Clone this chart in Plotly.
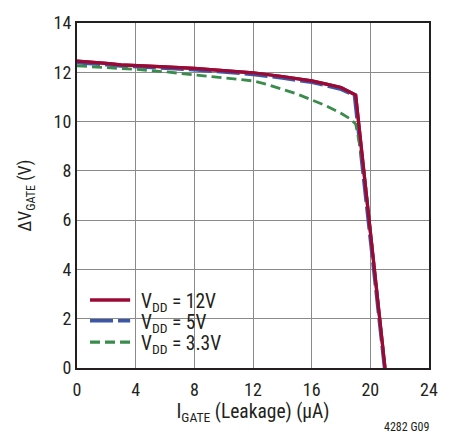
import plotly.graph_objects as go

# Gate drive vs. gate leakage current
i_12v = [0, 1, 2, 3, 4, 6, 8, 10, 12, 14, 16, 17, 18, 19.0, 21.0]
v_12v = [12.45, 12.42, 12.36, 12.3, 12.28, 12.22, 12.16, 12.08, 11.98, 11.83, 11.65, 11.52, 11.38, 11.08, 0]

i_5v = [0, 1, 2, 3, 4, 6, 8, 10, 12, 14, 16, 17, 18, 18.9, 20.95]
v_5v = [12.38, 12.35, 12.3, 12.25, 12.22, 12.16, 12.09, 12.0, 11.9, 11.76, 11.58, 11.45, 11.3, 11.05, 0]

i_33v = [0, 2, 4, 6, 8, 10, 12, 13, 14, 15, 16, 17, 18, 18.6, 19.0, 19.3, 19.6, 20.0, 21.0]
v_33v = [12.26, 12.2, 12.12, 12.02, 11.9, 11.8, 11.65, 11.5, 11.32, 11.12, 10.88, 10.64, 10.34, 10.12, 9.9, 9.0, 7.8, 5.6, 0]

x_ticks = [0, 4, 8, 12, 16, 20, 24]
y_ticks = [0, 2, 4, 6, 8, 10, 12, 14]

series_names = ["V<sub>DD</sub> = 12V", "V<sub>DD</sub> = 5V", "V<sub>DD</sub> = 3.3V"]
series_colors = ["#9a0a35", "#3d57a6", "#3a8c4c"]
series_dash = ["solid", "23px,5px", "10px,5px"]
series_width = [3.2, 3, 2.8]

FONT = "Liberation Sans Narrow, Roboto Condensed, Arial Narrow, Liberation Sans, sans-serif"
TEXT = "#231f20"

fig = go.Figure()
for xs, ys, name, col, dash, w in zip([i_12v, i_5v, i_33v], [v_12v, v_5v, v_33v],
                                      series_names, series_colors, series_dash, series_width):
    fig.add_trace(go.Scatter(x=xs, y=ys, mode="lines", name=name, showlegend=False,
                             line=dict(color=col, width=w, dash=dash)))
# redraw 12V on top so it covers the others
fig.add_trace(go.Scatter(x=i_12v, y=v_12v, mode="lines", showlegend=False, hoverinfo="skip",
                         line=dict(color=series_colors[0], width=series_width[0])))

axis_common = dict(
    showgrid=True, gridcolor="#8a8a8a", gridwidth=1.3,
    showline=True, linecolor="#231f20", linewidth=2, mirror=True,
    ticks="", zeroline=False,
    tickfont=dict(family=FONT, size=18, color=TEXT),
)

fig.update_xaxes(range=[0, 24], tickvals=x_ticks, ticklabelstandoff=4,
                 title=dict(text="I<sub>GATE</sub> (Leakage) (μA)",
                            font=dict(family=FONT, size=19.5, color=TEXT), standoff=6),
                 **axis_common)
fig.update_yaxes(range=[0, 14], tickvals=y_ticks,
                 title=dict(text="ΔV<sub>GATE</sub> (V)",
                            font=dict(family=FONT, size=17.5, color=TEXT), standoff=17),
                 **axis_common)

# legend block: white backing that hides the grid, line samples and labels
shapes = [dict(type="rect", xref="paper", yref="paper", x0=0.003, x1=0.43, y0=0.023, y1=0.237,
               fillcolor="white", line=dict(width=0), layer="between")]
annotations = []
legend_y = [0.197, 0.137, 0.075]
for name, col, dash, w, ly in zip(series_names, series_colors, series_dash, series_width, legend_y):
    shapes.append(dict(type="line", xref="paper", yref="paper", x0=0.037, x1=0.151, y0=ly, y1=ly,
                       line=dict(color=col, width=w + 0.3, dash=dash), layer="above"))
    annotations.append(dict(text=name, xref="paper", yref="paper", x=0.175, y=ly - 0.008,
                            xanchor="left", yanchor="middle", showarrow=False,
                            font=dict(family=FONT, size=19.5, color=TEXT)))

annotations.append(dict(text="4282 G09", xref="paper", yref="paper",
                        x=1.005, y=-0.196, xanchor="right", yanchor="bottom",
                        showarrow=False, font=dict(family=FONT, size=12, color=TEXT)))

fig.update_layout(
    width=456, height=434,
    margin=dict(l=77, r=27, t=18, b=66),
    plot_bgcolor="white", paper_bgcolor="white",
    font=dict(family=FONT, color=TEXT),
    shapes=shapes,
    annotations=annotations,
)

fig.write_html("out.html")
